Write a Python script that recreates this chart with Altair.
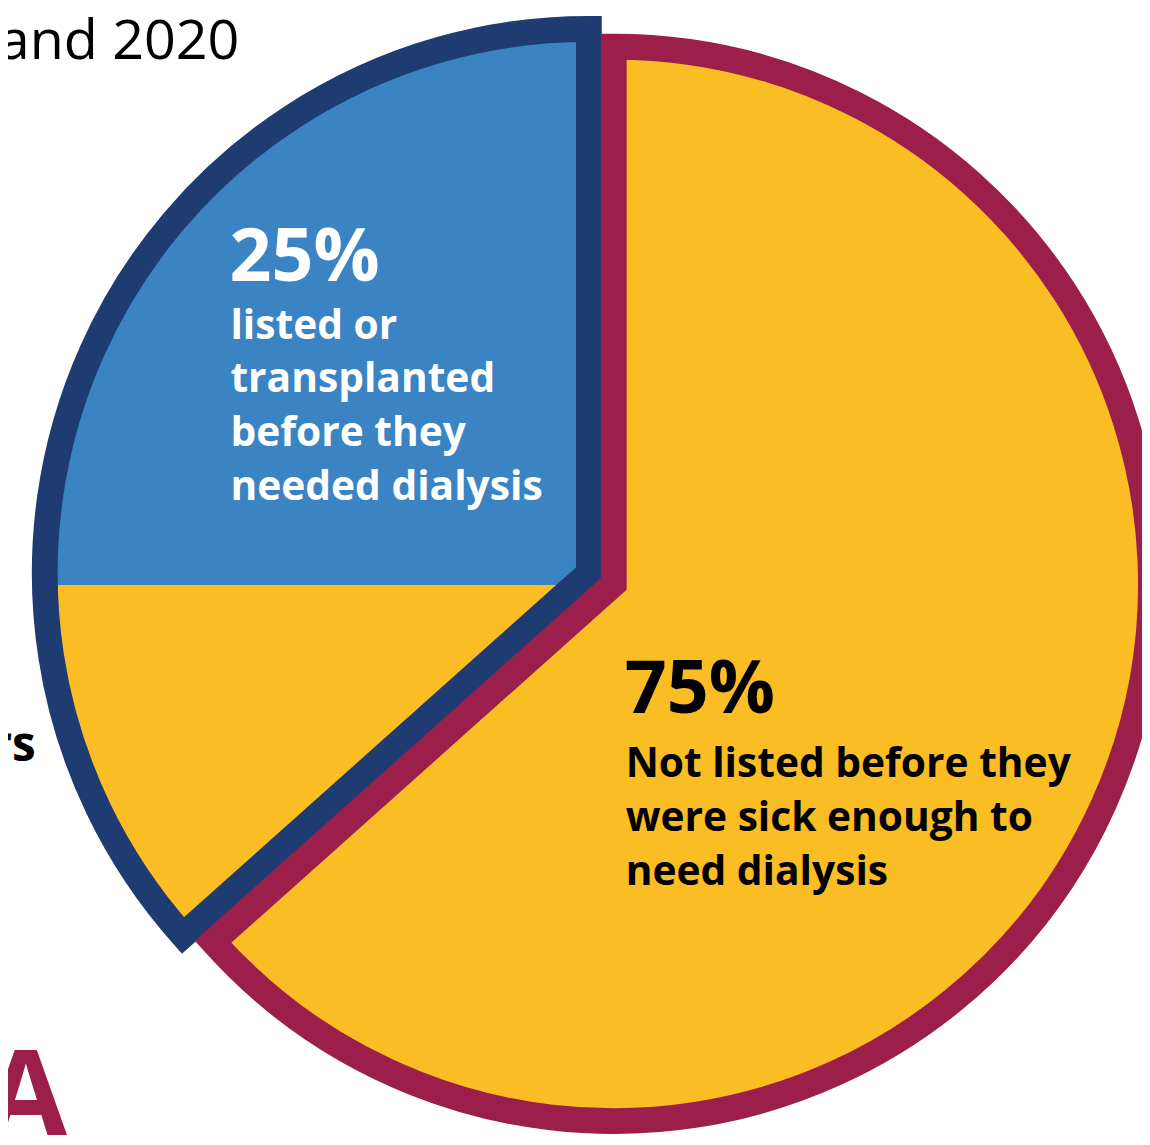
import altair as alt
import pandas as pd

# ---- data ----
segments = ["listed or transplanted before they needed dialysis",
            "Not listed before they were sick enough to need dialysis"]
shares = [25, 75]                      # percent
outline_split = 0.634                  # where the two outlined wedges meet (fraction of circle, clockwise from 12 o'clock)

pct_labels = ["25%", "75%"]
label_lines_blue = ["listed or", "transplanted", "before they", "needed dialysis"]
label_lines_yellow = ["Not listed before they", "were sick enough to", "need dialysis"]
fragment_top = "and 2020"
fragment_mid = "rs"
fragment_bottom = "A"

# ---- colours ----
YELLOW = "#FABD24"
BLUE = "#3A84C3"
NAVY = "#1E3C71"
MAROON = "#9C1E4B"

TAU = 6.283185307179586
theta_scale = alt.Scale(domain=[0, 1], range=[0, TAU])

blue_share = shares[0] / 100.0
navy_df = pd.DataFrame({"seg": [segments[0]], "t0": [outline_split], "t1": [1.0]})
maroon_df = pd.DataFrame({"seg": [segments[1]], "t0": [0.0], "t1": [outline_split]})
blue_df = pd.DataFrame({"seg": [segments[0]], "t0": [1.0 - blue_share], "t1": [1.0]})


def wedge(df, cx, cy, r, **mark):
    return alt.Chart(df).mark_arc(radius=r, **mark).encode(
        theta=alt.Theta("t0:Q", scale=theta_scale, stack=None),
        theta2="t1:Q",
        x=alt.value(cx),
        y=alt.value(cy),
    )


SW = 26
navy_fill = wedge(navy_df, 585, 565, 548, fill=YELLOW, strokeWidth=0)
blue_fill = wedge(blue_df, 585, 577, 552, fill=BLUE, strokeWidth=0)
navy_stroke = wedge(navy_df, 585, 565, 548, fill=YELLOW, fillOpacity=0,
                    stroke=NAVY, strokeWidth=SW, strokeJoin="miter")
maroon_wedge = wedge(maroon_df, 610, 576, 541, fill=YELLOW,
                     stroke=MAROON, strokeWidth=SW, strokeJoin="miter")

FONT = "Open Sans"


def text_block(lines, x, y, size, color, weight="bold", align="left", lh=None):
    df = pd.DataFrame({"t": ["\n".join(lines)]})
    kw = dict(align=align, baseline="alphabetic", font=FONT, fontSize=size,
              fontWeight=weight, color=color, lineBreak="\n")
    if lh:
        kw["lineHeight"] = lh
    return alt.Chart(df).mark_text(**kw).encode(
        text="t:N", x=alt.value(x), y=alt.value(y))


t25 = text_block([pct_labels[0]], 223, 271, 74, "white")
tblue = text_block(label_lines_blue, 224, 329, 41, "white", lh=54)
t75 = text_block([pct_labels[1]], 621, 706, 74, "black")
tyel = text_block(label_lines_yellow, 622, 770, 41, "black", lh=54.5)
ftop = text_block([fragment_top], 233, 47, 56, "black", weight="normal", align="right")
fmid = text_block([fragment_mid], 28, 754, 48, "black", align="right")
fbot = text_block([fragment_bottom], 18, 1131, 120, MAROON, align="center")

chart = alt.layer(
    navy_fill, blue_fill, navy_stroke, maroon_wedge,
    t25, tblue, t75, tyel, ftop, fmid, fbot,
).properties(
    width=1142, height=1137, autosize="none", padding=0,
).configure_view(stroke=None)

chart.save("out.html", embed_options={"renderer": "svg", "actions": False})
